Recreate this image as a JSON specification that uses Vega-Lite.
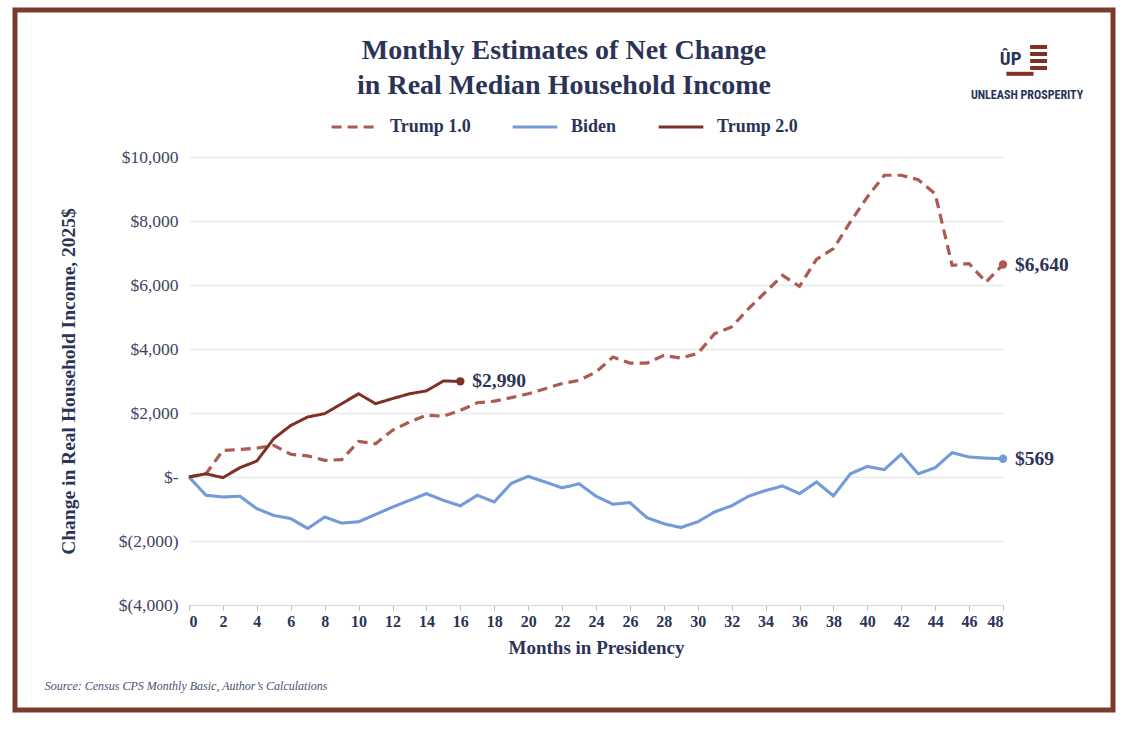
{
  "$schema": "https://vega.github.io/schema/vega-lite/v6.json",
  "width": 1098,
  "height": 700,
  "autosize": "none",
  "padding": {"left": 15, "top": 10, "right": 25, "bottom": 20},
  "background": "white",
  "config": {
    "font": "Liberation Serif",
    "view": {"stroke": "#7c3a2e", "strokeWidth": 5},
    "title": {"font": "Liberation Serif", "fontSize": 28, "fontWeight": "bold", "color": "#2b3457", "lineHeight": 35, "anchor": "middle", "frame": "group"}
  },
  "title": {
    "text": ["Monthly Estimates of Net Change", "in Real Median Household Income"],
    "offset": -90
  },
  "datasets": {
    "income": [
      {"series": "Trump 1.0", "month": 0, "value": 0},
      {"series": "Trump 1.0", "month": 1, "value": 100},
      {"series": "Trump 1.0", "month": 2, "value": 830},
      {"series": "Trump 1.0", "month": 3, "value": 860},
      {"series": "Trump 1.0", "month": 4, "value": 900},
      {"series": "Trump 1.0", "month": 5, "value": 990},
      {"series": "Trump 1.0", "month": 6, "value": 710},
      {"series": "Trump 1.0", "month": 7, "value": 660},
      {"series": "Trump 1.0", "month": 8, "value": 520},
      {"series": "Trump 1.0", "month": 9, "value": 540},
      {"series": "Trump 1.0", "month": 10, "value": 1110},
      {"series": "Trump 1.0", "month": 11, "value": 1040},
      {"series": "Trump 1.0", "month": 12, "value": 1460},
      {"series": "Trump 1.0", "month": 13, "value": 1720},
      {"series": "Trump 1.0", "month": 14, "value": 1930},
      {"series": "Trump 1.0", "month": 15, "value": 1900},
      {"series": "Trump 1.0", "month": 16, "value": 2080},
      {"series": "Trump 1.0", "month": 17, "value": 2320},
      {"series": "Trump 1.0", "month": 18, "value": 2370},
      {"series": "Trump 1.0", "month": 19, "value": 2480},
      {"series": "Trump 1.0", "month": 20, "value": 2600},
      {"series": "Trump 1.0", "month": 21, "value": 2760},
      {"series": "Trump 1.0", "month": 22, "value": 2920},
      {"series": "Trump 1.0", "month": 23, "value": 3020},
      {"series": "Trump 1.0", "month": 24, "value": 3280},
      {"series": "Trump 1.0", "month": 25, "value": 3750},
      {"series": "Trump 1.0", "month": 26, "value": 3560},
      {"series": "Trump 1.0", "month": 27, "value": 3560},
      {"series": "Trump 1.0", "month": 28, "value": 3800},
      {"series": "Trump 1.0", "month": 29, "value": 3720},
      {"series": "Trump 1.0", "month": 30, "value": 3860},
      {"series": "Trump 1.0", "month": 31, "value": 4480},
      {"series": "Trump 1.0", "month": 32, "value": 4690},
      {"series": "Trump 1.0", "month": 33, "value": 5260},
      {"series": "Trump 1.0", "month": 34, "value": 5780},
      {"series": "Trump 1.0", "month": 35, "value": 6300},
      {"series": "Trump 1.0", "month": 36, "value": 5960},
      {"series": "Trump 1.0", "month": 37, "value": 6800},
      {"series": "Trump 1.0", "month": 38, "value": 7135},
      {"series": "Trump 1.0", "month": 39, "value": 7970},
      {"series": "Trump 1.0", "month": 40, "value": 8750},
      {"series": "Trump 1.0", "month": 41, "value": 9430},
      {"series": "Trump 1.0", "month": 42, "value": 9430},
      {"series": "Trump 1.0", "month": 43, "value": 9290},
      {"series": "Trump 1.0", "month": 44, "value": 8850},
      {"series": "Trump 1.0", "month": 45, "value": 6615},
      {"series": "Trump 1.0", "month": 46, "value": 6670},
      {"series": "Trump 1.0", "month": 47, "value": 6090},
      {"series": "Trump 1.0", "month": 48, "value": 6640},
      {"series": "Biden", "month": 0, "value": 0},
      {"series": "Biden", "month": 1, "value": -570},
      {"series": "Biden", "month": 2, "value": -625},
      {"series": "Biden", "month": 3, "value": -600},
      {"series": "Biden", "month": 4, "value": -990},
      {"series": "Biden", "month": 5, "value": -1200},
      {"series": "Biden", "month": 6, "value": -1300},
      {"series": "Biden", "month": 7, "value": -1610},
      {"series": "Biden", "month": 8, "value": -1250},
      {"series": "Biden", "month": 9, "value": -1440},
      {"series": "Biden", "month": 10, "value": -1400},
      {"series": "Biden", "month": 11, "value": -1170},
      {"series": "Biden", "month": 12, "value": -940},
      {"series": "Biden", "month": 13, "value": -730},
      {"series": "Biden", "month": 14, "value": -520},
      {"series": "Biden", "month": 15, "value": -730},
      {"series": "Biden", "month": 16, "value": -900},
      {"series": "Biden", "month": 17, "value": -570},
      {"series": "Biden", "month": 18, "value": -780},
      {"series": "Biden", "month": 19, "value": -200},
      {"series": "Biden", "month": 20, "value": 20},
      {"series": "Biden", "month": 21, "value": -156},
      {"series": "Biden", "month": 22, "value": -340},
      {"series": "Biden", "month": 23, "value": -210},
      {"series": "Biden", "month": 24, "value": -600},
      {"series": "Biden", "month": 25, "value": -850},
      {"series": "Biden", "month": 26, "value": -800},
      {"series": "Biden", "month": 27, "value": -1270},
      {"series": "Biden", "month": 28, "value": -1460},
      {"series": "Biden", "month": 29, "value": -1580},
      {"series": "Biden", "month": 30, "value": -1400},
      {"series": "Biden", "month": 31, "value": -1090},
      {"series": "Biden", "month": 32, "value": -900},
      {"series": "Biden", "month": 33, "value": -600},
      {"series": "Biden", "month": 34, "value": -420},
      {"series": "Biden", "month": 35, "value": -280},
      {"series": "Biden", "month": 36, "value": -520},
      {"series": "Biden", "month": 37, "value": -156},
      {"series": "Biden", "month": 38, "value": -590},
      {"series": "Biden", "month": 39, "value": 100},
      {"series": "Biden", "month": 40, "value": 330},
      {"series": "Biden", "month": 41, "value": 230},
      {"series": "Biden", "month": 42, "value": 710},
      {"series": "Biden", "month": 43, "value": 100},
      {"series": "Biden", "month": 44, "value": 290},
      {"series": "Biden", "month": 45, "value": 760},
      {"series": "Biden", "month": 46, "value": 625},
      {"series": "Biden", "month": 47, "value": 590},
      {"series": "Biden", "month": 48, "value": 569},
      {"series": "Trump 2.0", "month": 0, "value": 0},
      {"series": "Trump 2.0", "month": 1, "value": 100},
      {"series": "Trump 2.0", "month": 2, "value": -20},
      {"series": "Trump 2.0", "month": 3, "value": 290},
      {"series": "Trump 2.0", "month": 4, "value": 500},
      {"series": "Trump 2.0", "month": 5, "value": 1200},
      {"series": "Trump 2.0", "month": 6, "value": 1610},
      {"series": "Trump 2.0", "month": 7, "value": 1875},
      {"series": "Trump 2.0", "month": 8, "value": 1980},
      {"series": "Trump 2.0", "month": 9, "value": 2290},
      {"series": "Trump 2.0", "month": 10, "value": 2600},
      {"series": "Trump 2.0", "month": 11, "value": 2290},
      {"series": "Trump 2.0", "month": 12, "value": 2450},
      {"series": "Trump 2.0", "month": 13, "value": 2600},
      {"series": "Trump 2.0", "month": 14, "value": 2690},
      {"series": "Trump 2.0", "month": 15, "value": 3000},
      {"series": "Trump 2.0", "month": 16, "value": 2990}
    ]
  },
  "data": {"name": "income"},
  "encoding": {
    "x": {
      "field": "month",
      "type": "quantitative",
      "scale": {"domain": [0, 48], "range": [174, 988], "nice": false},
      "axis": {
        "offset": -105,
        "values": [0, 2, 4, 6, 8, 10, 12, 14, 16, 18, 20, 22, 24, 26, 28, 30, 32, 34, 36, 38, 40, 42, 44, 46, 48],
        "grid": false,
        "domainColor": "#dcdcdc",
        "tickColor": "#bdbdbd",
        "tickSize": 5,
        "labelFont": "Liberation Serif",
        "labelFontWeight": "bold",
        "labelFontSize": 16,
        "labelColor": "#2b3457",
        "labelPadding": 3,
        "title": "Months in Presidency",
        "titleFont": "Liberation Serif",
        "titleFontSize": 19,
        "titleFontWeight": "bold",
        "titleColor": "#2b3457",
        "titlePadding": 9
      }
    },
    "y": {
      "field": "value",
      "type": "quantitative",
      "scale": {"domain": [-4000, 10000], "range": [595, 147], "nice": false, "zero": false},
      "axis": {
        "offset": -174,
        "values": [-4000, -2000, 0, 2000, 4000, 6000, 8000, 10000],
        "labelExpr": "datum.value == 0 ? '$-' : (datum.value < 0 ? '$(' + format(-datum.value, ',') + ')' : '$' + format(datum.value, ','))",
        "domain": false,
        "ticks": false,
        "gridColor": "#e8e8e8",
        "gridWidth": 1.5,
        "labelFont": "Liberation Serif",
        "labelFontSize": 17.5,
        "labelColor": "#3b4466",
        "labelPadding": 11,
        "title": "Change in Real Household Income, 2025$",
        "titleFont": "Liberation Serif",
        "titleFontSize": 19.5,
        "titleFontWeight": "bold",
        "titleColor": "#2b3457",
        "titlePadding": 40
      }
    }
  },
  "layer": [
    {
      "data": {"values": [{}]},
      "mark": {"type": "rule", "color": "#4b5378", "strokeWidth": 1.3},
      "encoding": {
        "x": {"datum": 0, "type": "quantitative"},
        "x2": {"datum": 48},
        "y": {"datum": 0, "type": "quantitative"}
      }
    },
    {
      "mark": {"type": "line", "strokeCap": "butt"},
      "encoding": {
        "color": {
          "field": "series",
          "type": "nominal",
          "scale": {"domain": ["Trump 1.0", "Biden", "Trump 2.0"], "range": ["#ab5b50", "#729bd8", "#7d3025"]},
          "legend": {
            "title": null,
            "orient": "none",
            "direction": "horizontal",
            "legendX": 315,
            "legendY": 93,
            "symbolType": "stroke",
            "symbolSize": 2000,
            "labelFont": "Liberation Serif",
            "labelFontSize": 18,
            "labelFontWeight": "bold",
            "labelColor": "#2b3457",
            "labelOffset": 12,
            "columnPadding": 35
          }
        },
        "strokeDash": {
          "field": "series",
          "type": "nominal",
          "scale": {"domain": ["Trump 1.0", "Biden", "Trump 2.0"], "range": [[10, 6], [1, 0], [1, 0]]},
          "legend": {"title": null}
        },
        "strokeWidth": {
          "field": "series",
          "type": "nominal",
          "scale": {"domain": ["Trump 1.0", "Biden", "Trump 2.0"], "range": [3.2, 3, 5]},
          "legend": {"title": null}
        },
        "order": {"field": "month", "type": "quantitative"}
      }
    },
    {
      "transform": [
        {"joinaggregate": [{"op": "max", "field": "month", "as": "last"}], "groupby": ["series"]},
        {"filter": "datum.month == datum.last"}
      ],
      "layer": [
        {
          "mark": {"type": "circle", "size": 70, "opacity": 1},
          "encoding": {
            "fill": {
              "field": "series",
              "type": "nominal",
              "scale": {"domain": ["Trump 1.0", "Biden", "Trump 2.0"], "range": ["#ab5b50", "#729bd8", "#7d3025"]},
              "legend": null
            }
          }
        },
        {
          "mark": {"type": "text", "align": "left", "baseline": "middle", "dx": 12, "font": "Liberation Serif", "fontSize": 19.5, "fontWeight": "bold", "color": "#2b3457"},
          "encoding": {
            "text": {"field": "value", "type": "quantitative", "format": "$,.0f"}
          }
        }
      ]
    },
    {
      "data": {"values": [{"note": "Source: Census CPS Monthly Basic, Author’s Calculations", "month": -8.5, "value": -6530}]},
      "mark": {"type": "text", "align": "left", "baseline": "middle", "font": "Liberation Serif", "fontStyle": "italic", "fontSize": 12, "color": "#4a5275"},
      "encoding": {
        "text": {"field": "note", "type": "nominal"}
      }
    },
    {
      "data": {"values": [
        {"month": 49.6, "month2": 50.6, "value": 13437},
        {"month": 49.6, "month2": 50.6, "value": 13219},
        {"month": 49.6, "month2": 50.6, "value": 13000},
        {"month": 49.6, "month2": 50.6, "value": 12781},
        {"month": 48.2, "month2": 49.8, "value": 12600}
      ]},
      "mark": {"type": "rule", "color": "#7d3025", "strokeWidth": 4},
      "encoding": {
        "x2": {"field": "month2"}
      }
    },
    {
      "data": {"values": [{"note": "UNLEASH PROSPERITY", "month": 49.42, "value": 11937}]},
      "mark": {"type": "text", "align": "center", "baseline": "middle", "font": "Liberation Sans Narrow, Roboto Condensed, Roboto", "fontWeight": "bold", "fontSize": 12, "color": "#2b3457"},
      "encoding": {
        "text": {"field": "note", "type": "nominal"}
      }
    },
    {
      "data": {"values": [{"note": "ÛP", "month": 48.45, "value": 13050}]},
      "mark": {"type": "text", "align": "center", "baseline": "middle", "font": "Liberation Sans Narrow, Roboto Condensed, Roboto", "fontWeight": "bold", "fontSize": 19, "color": "#2b3457"},
      "encoding": {
        "text": {"field": "note", "type": "nominal"}
      }
    }
  ]
}
